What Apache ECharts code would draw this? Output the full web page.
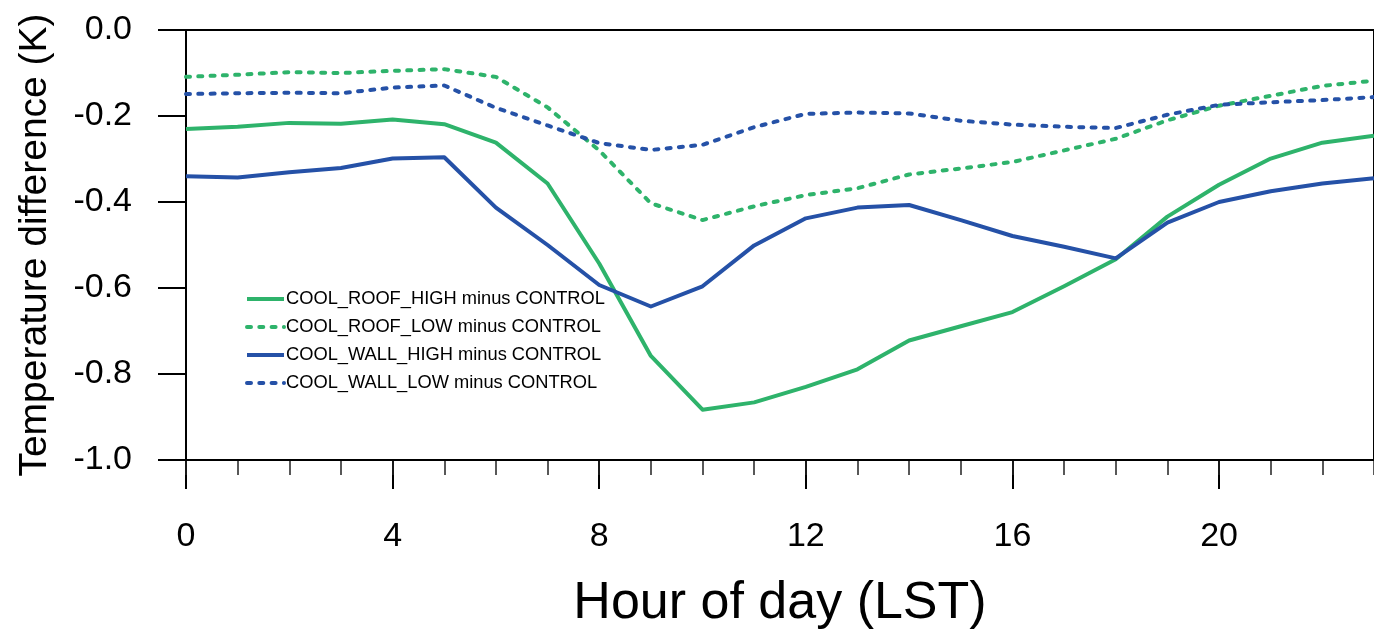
<!DOCTYPE html>
<html>
<head>
<meta charset="utf-8">
<script src="https://cdn.jsdelivr.net/npm/echarts@6/dist/echarts.min.js"></script>
<style>
html,body{margin:0;padding:0;background:#fff;}
#chart{width:1374px;height:635px;}
</style>
</head>
<body>
<div id="chart"></div>
<script>
const hours = [0,1,2,3,4,5,6,7,8,9,10,11,12,13,14,15,16,17,18,19,20,21,22,23];
const seriesNames = [
  'COOL_ROOF_HIGH minus CONTROL',
  'COOL_ROOF_LOW minus CONTROL',
  'COOL_WALL_HIGH minus CONTROL',
  'COOL_WALL_LOW minus CONTROL'
];
const roofHigh = [-0.230,-0.225,-0.216,-0.218,-0.208,-0.219,-0.262,-0.357,-0.543,-0.758,-0.883,-0.866,-0.830,-0.789,-0.722,-0.689,-0.656,-0.596,-0.533,-0.434,-0.360,-0.299,-0.262,-0.246];
const roofLow  = [-0.109,-0.104,-0.098,-0.100,-0.095,-0.091,-0.109,-0.180,-0.280,-0.403,-0.442,-0.410,-0.384,-0.368,-0.336,-0.322,-0.307,-0.280,-0.253,-0.210,-0.176,-0.153,-0.130,-0.118];
const wallHigh = [-0.340,-0.343,-0.331,-0.321,-0.299,-0.296,-0.413,-0.500,-0.593,-0.643,-0.596,-0.501,-0.438,-0.413,-0.407,-0.442,-0.479,-0.504,-0.531,-0.448,-0.400,-0.375,-0.357,-0.345];
const wallLow  = [-0.149,-0.147,-0.146,-0.147,-0.134,-0.129,-0.181,-0.222,-0.263,-0.279,-0.267,-0.226,-0.195,-0.192,-0.194,-0.211,-0.220,-0.225,-0.228,-0.197,-0.174,-0.168,-0.163,-0.156];
const xTitle = 'Hour of day (LST)';
const yTitle = 'Temperature difference (K)';

const GREEN = '#2eb36b';
const BLUE = '#2551a7';
const FONT = 'Liberation Sans, Arial, Helvetica, sans-serif';
const DOT = [4, 8.3];

function pairs(vals){ return hours.map((h,i)=>[h, vals[i]]); }

const chart = echarts.init(document.getElementById('chart'), null, {renderer:'canvas'});
const mk = (name, vals, color, dashed) => ({
  name, type:'line', data: pairs(vals), xAxisIndex:0, yAxisIndex:0,
  symbol:'none', showSymbol:false, smooth:false, animation:false,
  lineStyle:{color, width:4, type: dashed ? DOT : 'solid', cap: dashed ? 'round' : 'butt', join:'round'},
  itemStyle:{color}
});
const gridBox = {left:186, top:30, right:-6, bottom:174};
chart.setOption({
  backgroundColor:'#fff',
  animation:false,
  textStyle:{fontFamily:FONT},
  grid:[
    Object.assign({show:true, borderColor:'#000', borderWidth:2, backgroundColor:'transparent'}, gridBox),
    Object.assign({show:false}, gridBox)
  ],
  legend:{
    orient:'vertical', left:240, top:285,
    itemWidth:37, itemHeight:18, itemGap:10,
    itemStyle:{opacity:0, borderWidth:0},
    lineStyle:{width:4},
    textStyle:{fontFamily:FONT, fontSize:18.3, color:'#000', lineHeight:18, padding:[0,0,0,-3]},
    data: seriesNames
  },
  xAxis:[{
    gridIndex:0, type:'value', min:0, max:23, interval:4, position:'bottom',
    name:xTitle, nameLocation:'middle', nameGap:118,
    nameTextStyle:{fontFamily:FONT, fontSize:52, color:'#000', lineHeight:52},
    axisLine:{show:true, onZero:false, lineStyle:{color:'#000', width:2}},
    axisTick:{show:true, inside:false, length:29, lineStyle:{color:'#000', width:2}},
    axisLabel:{show:true, margin:60, fontSize:34, color:'#000', fontFamily:FONT, showMaxLabel:false, lineHeight:34},
    splitLine:{show:false}
  },{
    gridIndex:1, type:'value', min:0, max:23, interval:1, position:'bottom',
    axisLine:{show:false, onZero:false},
    axisTick:{show:true, inside:false, length:14, lineStyle:{color:'#222', width:1.5}},
    axisLabel:{show:false},
    splitLine:{show:false}
  }],
  yAxis:[{
    gridIndex:0, type:'value', min:-1, max:0, interval:0.2,
    name:yTitle, nameLocation:'middle', nameGap:131, nameRotate:90,
    nameTextStyle:{fontFamily:FONT, fontSize:39, color:'#000', lineHeight:39},
    axisLine:{show:true, onZero:false, lineStyle:{color:'#000', width:2}},
    axisTick:{show:true, inside:false, length:28, lineStyle:{color:'#000', width:2}},
    axisLabel:{show:true, margin:54, fontSize:34, color:'#000', fontFamily:FONT, padding:[8,0,0,0],
      formatter:(v)=>v.toFixed(1)},
    splitLine:{show:false}
  },{
    gridIndex:1, type:'value', min:-1, max:0, show:false
  }],
  series:[
    mk(seriesNames[0], roofHigh, GREEN, false),
    mk(seriesNames[1], roofLow, GREEN, true),
    mk(seriesNames[2], wallHigh, BLUE, false),
    mk(seriesNames[3], wallLow, BLUE, true)
  ]
});
</script>
</body>
</html>
